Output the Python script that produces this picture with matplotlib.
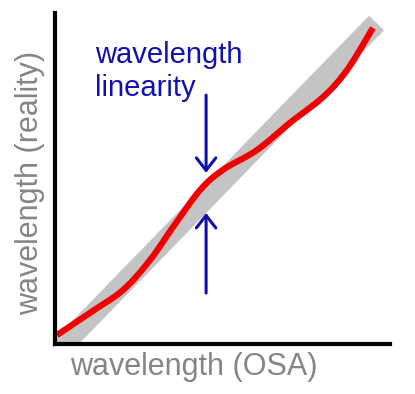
import matplotlib
matplotlib.use("Agg")
import matplotlib.pyplot as plt
import numpy as np

# Data (normalized coordinates)
band_x = [-0.03, 0.96]
band_y = [-0.06, 0.97]
red_x = [0.006, 0.104, 0.203, 0.284, 0.352, 0.433, 0.501, 0.603, 0.701, 0.800, 0.872, 0.949]
red_y = [0.027, 0.094, 0.163, 0.254, 0.353, 0.465, 0.526, 0.586, 0.668, 0.746, 0.828, 0.955]
arrow_x = 0.451
arrow_top = [0.752, 0.517]
arrow_bottom = [0.154, 0.396]
annotation_text = "wavelength\nlinearity"
xlabel = "wavelength (OSA)"
ylabel = "wavelength (reality)"

plt.rcParams['font.family'] = ['Liberation Sans', 'DejaVu Sans']

fig = plt.figure(figsize=(4.15, 3.94), dpi=100)
ax = fig.add_axes([55/415, 50/394, 335/415, 331/394])
ax.set_xlim(0, 1)
ax.set_ylim(0, 1)

ax.plot(band_x, band_y, color='#c4c4c4', lw=15, solid_capstyle='butt', zorder=1)

def catmull(p, tt):
    p = np.asarray(p, float)
    out = []
    for u in tt:
        i = min(int(u), len(p) - 2)
        s = u - i
        p0 = p[max(i - 1, 0)]; p1 = p[i]; p2 = p[i + 1]; p3 = p[min(i + 2, len(p) - 1)]
        out.append(0.5 * ((2 * p1) + (-p0 + p2) * s + (2 * p0 - 5 * p1 + 4 * p2 - p3) * s**2
                          + (-p0 + 3 * p1 - 3 * p2 + p3) * s**3))
    return np.array(out)

tt = np.linspace(0, len(red_x) - 1, 300)
ax.plot(catmull(red_x, tt), catmull(red_y, tt), color='#f00000', lw=4.5,
        solid_capstyle='butt', zorder=2)

blue = '#1010b0'
for (y0, y1) in (arrow_top, arrow_bottom):
    ax.annotate('', xy=(arrow_x, y1), xytext=(arrow_x, y0),
                arrowprops=dict(arrowstyle='->,head_length=0.9,head_width=0.7',
                                color=blue, lw=2.2, shrinkA=0, shrinkB=0), zorder=3)

ax.text(0.12, 0.915, annotation_text, color=blue, fontsize=21, va='top', ha='left',
        linespacing=1.2, transform=ax.transAxes)

ax.text(0.415, -0.069, xlabel, color='#858585', fontsize=22, ha='center', va='center',
        transform=ax.transAxes, clip_on=False)
ax.text(-0.075, 0.486, ylabel, color='#858585', fontsize=22, ha='center', va='center',
        rotation=90, transform=ax.transAxes, clip_on=False)

for s in ('top', 'right'):
    ax.spines[s].set_visible(False)
for s in ('left', 'bottom'):
    ax.spines[s].set_linewidth(3)
    ax.spines[s].set_color('black')
    ax.spines[s].set_zorder(4)
ax.set_xticks([])
ax.set_yticks([])

fig.savefig('out.png', dpi=100)
